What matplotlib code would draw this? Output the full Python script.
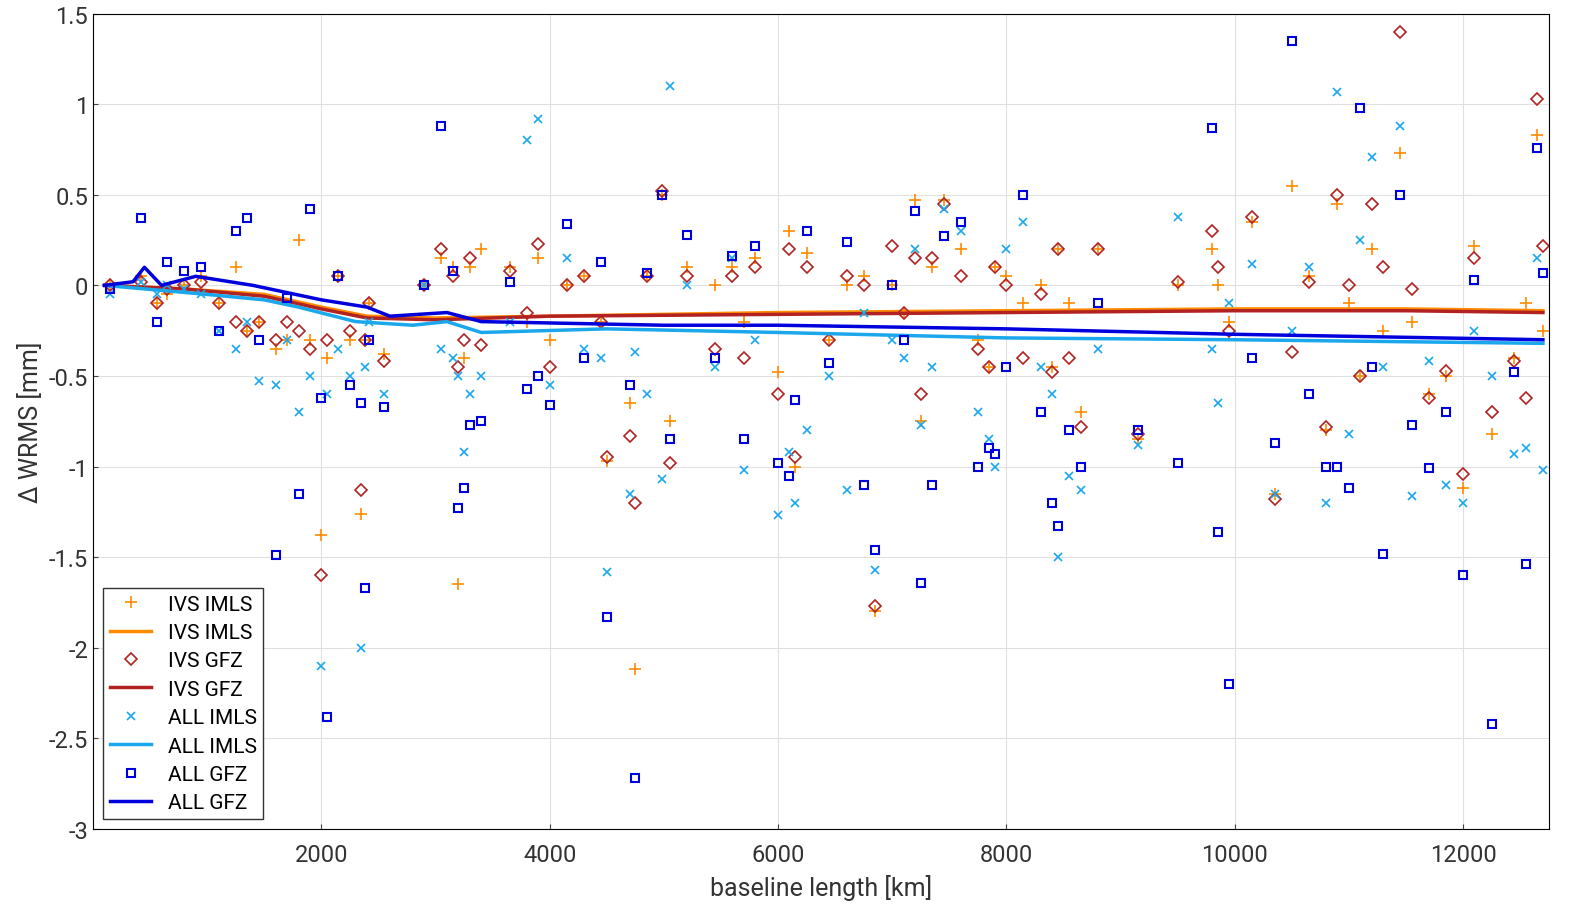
import numpy as np
import matplotlib.pyplot as plt

plt.rcParams['font.family'] = ['Roboto', 'DejaVu Sans']

# baseline lengths [km] and delta WRMS [mm] for each solution
bl = [150, 420, 560, 650, 800, 950, 1100, 1250, 1350, 1450, 1600, 1700, 1800, 1900, 2000,
      2050, 2150, 2250, 2350, 2380, 2420, 2550, 2900, 3050, 3150, 3200, 3250, 3300, 3400,
      3650, 3800, 3900, 4000, 4150, 4300, 4450, 4500, 4700, 4750, 4850, 4980, 5050, 5200,
      5450, 5600, 5700, 5800, 6000, 6100, 6150, 6250, 6450, 6600, 6750, 6850, 7000, 7100,
      7200, 7250, 7350, 7450, 7600, 7750, 7850, 7900, 8000, 8150, 8300, 8400, 8450, 8550,
      8650, 8800, 9150, 9500, 9800, 9850, 9950, 10150, 10350, 10500, 10650, 10800, 10900,
      11000, 11100, 11200, 11300, 11450, 11550, 11700, 11850, 12000, 12100, 12250, 12450,
      12550, 12650, 12700]
ivs_imls = [0.0, 0.05, -0.1, -0.05, 0.0, 0.05, -0.1, 0.1, -0.25, -0.2, -0.35, -0.3, 0.25, -0.3, -1.38,
            -0.4, 0.05, -0.3, -1.26, -0.3, -0.1, -0.38, 0.0, 0.15, 0.1, -1.65, -0.4, 0.1, 0.2,
            0.1, -0.2, 0.15, -0.3, 0.0, 0.05, -0.2, -0.97, -0.65, -2.12, 0.05, 0.5, -0.75, 0.1,
            0.0, 0.1, -0.2, 0.15, -0.48, 0.3, -1.0, 0.18, -0.3, 0.0, 0.05, -1.8, 0.0, -0.15,
            0.47, -0.75, 0.1, 0.47, 0.2, -0.3, -0.45, 0.1, 0.05, -0.1, 0.0, -0.45, 0.2, -0.1,
            -0.7, 0.2, -0.85, 0.0, 0.2, 0.0, -0.2, 0.35, -1.15, 0.55, 0.05, -0.8, 0.45,
            -0.1, -0.5, 0.2, -0.25, 0.73, -0.2, -0.6, -0.5, -1.12, 0.22, -0.82, -0.4,
            -0.1, 0.83, -0.25]
ivs_gfz = [0.0, 0.02, -0.1, -0.02, 0.0, 0.02, -0.1, -0.2, -0.25, -0.2, -0.3, -0.2, -0.25, -0.35, -1.6,
           -0.3, 0.05, -0.25, -1.13, -0.3, -0.1, -0.42, 0.0, 0.2, 0.05, -0.45, -0.3, 0.15, -0.33,
           0.08, -0.15, 0.23, -0.45, 0.0, 0.05, -0.2, -0.95, -0.83, -1.2, 0.05, 0.52, -0.98, 0.05,
           -0.35, 0.05, -0.4, 0.1, -0.6, 0.2, -0.95, 0.1, -0.3, 0.05, 0.0, -1.77, 0.22, -0.15,
           0.15, -0.6, 0.15, 0.45, 0.05, -0.35, -0.45, 0.1, 0.0, -0.4, -0.05, -0.48, 0.2, -0.4,
           -0.78, 0.2, -0.82, 0.02, 0.3, 0.1, -0.25, 0.38, -1.18, -0.37, 0.02, -0.78, 0.5,
           0.0, -0.5, 0.45, 0.1, 1.4, -0.02, -0.62, -0.47, -1.04, 0.15, -0.7, -0.42,
           -0.62, 1.03, 0.22]
all_imls = [-0.05, 0.02, -0.05, 0.0, -0.02, -0.05, -0.25, -0.35, -0.2, -0.53, -0.55, -0.3, -0.7, -0.5, -2.1,
            -0.6, -0.35, -0.5, -2.0, -0.45, -0.2, -0.6, 0.0, -0.35, -0.4, -0.5, -0.92, -0.6, -0.5,
            -0.2, 0.8, 0.92, -0.55, 0.15, -0.35, -0.4, -1.58, -1.15, -0.37, -0.6, -1.07, 1.1, 0.0,
            -0.45, 0.15, -1.02, -0.3, -1.27, -0.92, -1.2, -0.8, -0.5, -1.13, -0.15, -1.57, -0.3, -0.4,
            0.2, -0.77, -0.45, 0.42, 0.3, -0.7, -0.85, -1.0, 0.2, 0.35, -0.45, -0.6, -1.5, -1.05,
            -1.13, -0.35, -0.88, 0.38, -0.35, -0.65, -0.1, 0.12, -1.15, -0.25, 0.1, -1.2, 1.07,
            -0.82, 0.25, 0.71, -0.45, 0.88, -1.16, -0.42, -1.1, -1.2, -0.25, -0.5, -0.93,
            -0.9, 0.15, -1.02]
all_gfz = [-0.02, 0.37, -0.2, 0.13, 0.08, 0.1, -0.25, 0.3, 0.37, -0.3, -1.49, -0.07, -1.15, 0.42, -0.62,
           -2.38, 0.05, -0.55, -0.65, -1.67, -0.3, -0.67, 0.0, 0.88, 0.08, -1.23, -1.12, -0.77, -0.75,
           0.02, -0.57, -0.5, -0.66, 0.34, -0.4, 0.13, -1.83, -0.55, -2.72, 0.07, 0.5, -0.85, 0.28,
           -0.4, 0.16, -0.85, 0.22, -0.98, -1.05, -0.63, 0.3, -0.43, 0.24, -1.1, -1.46, 0.0, -0.3,
           0.41, -1.64, -1.1, 0.27, 0.35, -1.0, -0.9, -0.93, -0.45, 0.5, -0.7, -1.2, -1.33, -0.8,
           -1.0, -0.1, -0.8, -0.98, 0.87, -1.36, -2.2, -0.4, -0.87, 1.35, -0.6, -1.0, -1.0,
           -1.12, 0.98, -0.45, -1.48, 0.5, -0.77, -1.01, -0.7, -1.6, 0.03, -2.42, -0.48,
           -1.54, 0.76, 0.07]

# running means
ivs_imls_line_x = [100, 800, 1500, 2000, 2400, 3000, 4000, 6000, 8000, 10000, 11500, 12700]
ivs_imls_line_y = [0.0, -0.02, -0.05, -0.12, -0.17, -0.18, -0.17, -0.15, -0.14, -0.13, -0.13, -0.14]
ivs_gfz_line_x = [100, 800, 1500, 2000, 2400, 3000, 4000, 6000, 8000, 10000, 11500, 12700]
ivs_gfz_line_y = [0.0, -0.02, -0.06, -0.13, -0.18, -0.19, -0.17, -0.16, -0.15, -0.14, -0.14, -0.15]
all_imls_line_x = [100, 1000, 1500, 1800, 2300, 2800, 3100, 3400, 4500, 6000, 8000, 10000, 12700]
all_imls_line_y = [0.0, -0.05, -0.08, -0.12, -0.2, -0.22, -0.2, -0.26, -0.24, -0.26, -0.29, -0.3, -0.32]
all_gfz_line_x = [100, 350, 450, 600, 900, 1400, 2000, 2400, 2600, 3100, 3400, 5000, 6000, 8000, 10000, 12700]
all_gfz_line_y = [0.0, 0.02, 0.1, 0.0, 0.05, 0.0, -0.08, -0.12, -0.17, -0.15, -0.2, -0.22, -0.22, -0.24, -0.27, -0.3]

c_ivs_imls = '#ff8c00'
c_ivs_gfz = '#b22222'
c_all_imls = '#1aa7ec'
c_all_gfz = '#0000dd'

fig, ax = plt.subplots(figsize=(15.77, 9.12), dpi=100)
fig.subplots_adjust(left=0.059, right=0.982, top=0.984, bottom=0.09)

ax.plot(bl, ivs_imls, '+', color=c_ivs_imls, ms=8, mew=1.2, label='IVS IMLS')
ax.plot(ivs_imls_line_x, ivs_imls_line_y, color=c_ivs_imls, lw=2.5, label='IVS IMLS')
ax.plot(bl, ivs_gfz, 'D', color=c_ivs_gfz, mfc='none', ms=6, mew=1.2, label='IVS GFZ')
ax.plot(ivs_gfz_line_x, ivs_gfz_line_y, color=c_ivs_gfz, lw=2.5, label='IVS GFZ')
ax.plot(bl, all_imls, 'x', color=c_all_imls, ms=6, mew=1.2, label='ALL IMLS')
ax.plot(all_imls_line_x, all_imls_line_y, color=c_all_imls, lw=2.5, label='ALL IMLS')
ax.plot(bl, all_gfz, 's', color=c_all_gfz, mfc='none', ms=6, mew=1.5, label='ALL GFZ')
ax.plot(all_gfz_line_x, all_gfz_line_y, color=c_all_gfz, lw=2.5, label='ALL GFZ')

ax.set_xlim(0, 12750)
ax.set_ylim(-3, 1.5)
ax.set_xticks([2000, 4000, 6000, 8000, 10000, 12000])
ax.set_yticks(np.arange(-3, 1.51, 0.5))
ax.set_yticklabels(['-3', '-2.5', '-2', '-1.5', '-1', '-0.5', '0', '0.5', '1', '1.5'])
ax.grid(True, color='#e0e0e0', lw=0.8)
ax.set_axisbelow(True)
ax.tick_params(labelsize=17, color='#444444', labelcolor='#333333', direction='in')
ax.tick_params(axis='x', pad=10)
ax.set_xlabel('baseline length [km]', fontsize=18, color='#333333', labelpad=6)
ax.set_ylabel('Δ WRMS [mm]', fontsize=18, color='#333333')
ax.legend(loc='lower left', fontsize=15, framealpha=1, edgecolor='#333333',
          fancybox=False, handlelength=2, borderpad=0.3, labelspacing=0.45)

fig.savefig('out.png')
